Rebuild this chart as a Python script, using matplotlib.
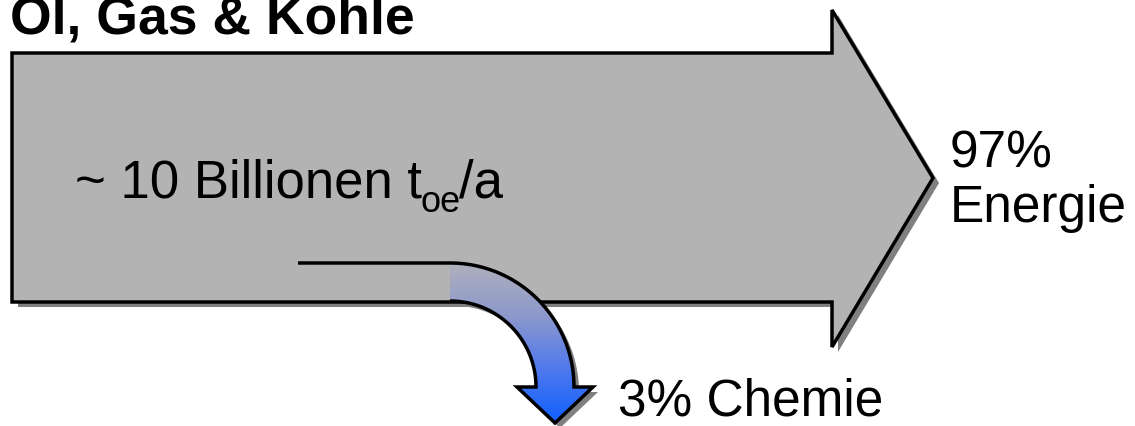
import numpy as np
import matplotlib
matplotlib.use("Agg")
import matplotlib.pyplot as plt
from matplotlib.patches import Polygon
from matplotlib.colors import LinearSegmentedColormap

plt.rcParams["font.family"] = ["Liberation Sans", "DejaVu Sans"]

# Content
title = "Öl, Gas & Kohle"
total_main = "~ 10 Billionen t"
total_sub = "oe"
total_tail = "/a"
shares = [97, 3]
uses = ["Energie", "Chemie"]

W, H = 1135, 426
fig = plt.figure(figsize=(W / 100, H / 100), dpi=100)
ax = fig.add_axes([0, 0, 1, 1])
ax.set_xlim(0, W)
ax.set_ylim(H, 0)
ax.axis("off")

FILL = "#b3b3b3"
SHADOW = "#808080"
LW = 2.5
sdx, sdy = 6, 5

# Main flow arrow (pixel-space layout)
big = np.array([
    [12, 53], [832, 53], [832, 10], [933, 178],
    [832, 347], [832, 302], [12, 302],
])

# Branch arrow: quarter-circle band turning downward, ending in a head
cx, cy = 450, 387
r_out, r_in = 124, 86
th = np.linspace(0, np.pi / 2, 60)
outer = np.column_stack([cx + r_out * np.sin(th), cy - r_out * np.cos(th)])
inner = np.column_stack([cx + r_in * np.sin(th), cy - r_in * np.cos(th)])[::-1]
hc = cx + (r_out + r_in) / 2
head = np.array([[hc + 38, cy], [hc, 423], [hc - 38, cy]])
branch = np.vstack([outer, head, inner])

# shadows
ax.add_patch(Polygon(branch + [5, 5], closed=True, fc=SHADOW, ec="none", zorder=1))
ax.add_patch(Polygon(big + [sdx, sdy], closed=True, fc=SHADOW, ec="none", zorder=2))
# main arrow
ax.add_patch(Polygon(big, closed=True, fc=FILL, ec="black", lw=LW,
                     joinstyle="miter", zorder=3))

# gradient-filled branch
clip = Polygon(branch, closed=True, fc="none", ec="none", transform=ax.transData)
ax.add_patch(clip)
cmap = LinearSegmentedColormap.from_list(
    "branch", ["#b0b0bc", "#8c98cc", "#4d78ee", "#0f5fff"])
grad = np.linspace(0, 1, 256).reshape(-1, 1)
img = ax.imshow(grad, cmap=cmap, aspect="auto",
                extent=[cx, hc + 40, 425, 262], zorder=4, interpolation="bilinear")
img.set_clip_path(clip)

outline = np.vstack([[[298, 263]], outer, head, inner])
ax.plot(outline[:, 0], outline[:, 1], color="black", lw=LW,
        solid_joinstyle="miter", solid_capstyle="butt", zorder=5)

# texts
ax.text(10, 33, title, fontsize=38.5, fontweight="bold", ha="left",
        va="baseline", zorder=6)

renderer = fig.canvas.get_renderer()
t1 = ax.text(75, 197, total_main, fontsize=38, ha="left", va="baseline", zorder=6)
x1 = t1.get_window_extent(renderer).x1
t2 = ax.text(x1 - 1, 212, total_sub, fontsize=26, ha="left", va="baseline", zorder=6)
x2 = t2.get_window_extent(renderer).x1
ax.text(x2 - 2, 197, total_tail, fontsize=38, ha="left", va="baseline", zorder=6)

ax.text(950, 167, f"{shares[0]}%", fontsize=37, ha="left", va="baseline", zorder=6)
ax.text(950, 222, uses[0], fontsize=37, ha="left", va="baseline", zorder=6)
ax.text(618, 416, f"{shares[1]}% {uses[1]}", fontsize=37, ha="left",
        va="baseline", zorder=6)

fig.savefig("out.png", dpi=100)
